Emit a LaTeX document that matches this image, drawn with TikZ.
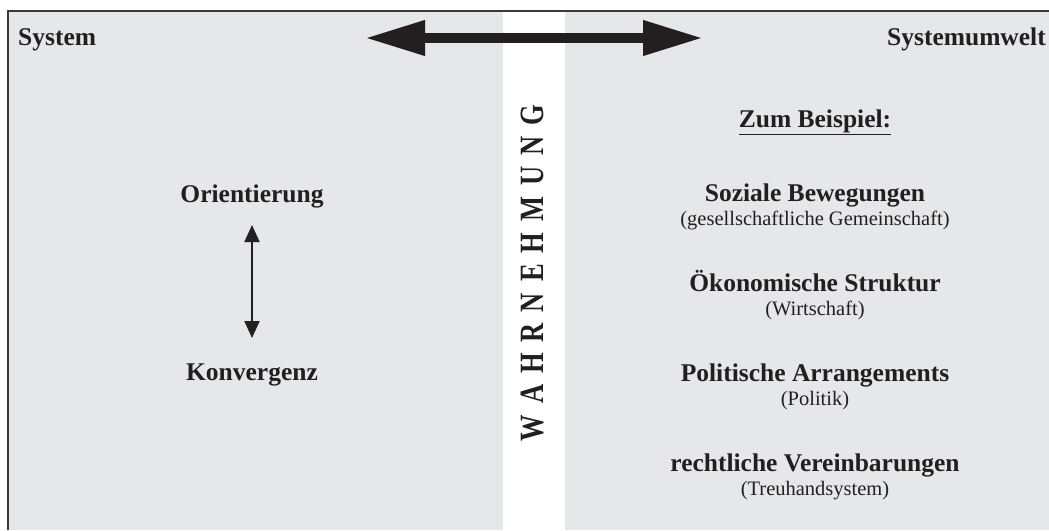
\documentclass[tikz,border=0pt]{standalone}
\usepackage{fontspec}
\setmainfont{Liberation Serif}
\newfontfamily\wahrfont[FakeStretch=0.78]{Liberation Serif}
\usepackage{tikz}
\usetikzlibrary{arrows.meta}
\definecolor{panelgray}{HTML}{E6E7E8}
\definecolor{rulegray}{HTML}{3A3A3A}
\definecolor{ink}{HTML}{231F20}
\newcommand{\wg}{\hspace{11pt}}

\begin{document}
\begin{tikzpicture}[x=1pt,y=-1pt,
headtxt/.style={font=\fontsize{25.5}{28}\selectfont\bfseries, text=ink, inner sep=0pt, anchor=base},
subtxt/.style={font=\fontsize{20.5}{24}\selectfont, text=ink, inner sep=0pt, anchor=base},
bigarrow/.style={ink, line width=10pt, {Triangle[length=60pt,width=33pt]}-{Triangle[length=60pt,width=33pt]}},
smallarrow/.style={ink, line width=2pt, {Triangle[length=17pt,width=15pt]}-{Triangle[length=17pt,width=15pt]}}]
\useasboundingbox (0,0) rectangle (1049,530);
\fill[white] (0,0) rectangle (1049,530);
% panels
\fill[panelgray] (8,12) rectangle (503,530);
\fill[panelgray] (565,12) rectangle (1049,530);
\draw[rulegray, line width=2pt, line join=miter] (1049,11) -- (8,11) -- (8,530);
% top row
\node (sys) at (18,45) [headtxt, anchor=base west] {System};
\node (umw) at (1046,45) [headtxt, anchor=base east] {Systemumwelt};
\coordinate (al) at (365,38);
\coordinate (ar) at (703,38);
\draw[bigarrow] (al) -- (ar);
% middle strip
\node (wahr) at (532,273) [rotate=90, inner sep=0pt, text=ink,
  font=\wahrfont\fontsize{34}{38}\selectfont\bfseries]
  {W\wg A\wg H\wg R\wg N\wg E\wg H\wg M\wg U\wg N\wg G};
% left side
\node (orient) at (252,202) [headtxt] {Orientierung};
\node (konv) at (252,380) [headtxt] {Konvergenz};
\coordinate (ot) at (252,225);
\coordinate (kt) at (252,338);
\draw[smallarrow] (ot) -- (kt);
% right side
\node (bsp) at (815,127) [headtxt] {\underline{Zum Beispiel:}};
\node (soz) at (815,201) [headtxt] {Soziale Bewegungen};
\node (sozs) at (815,225) [subtxt] {(gesellschaftliche Gemeinschaft)};
\node (oek) at (815,291) [headtxt] {Ökonomische Struktur};
\node (oeks) at (815,315) [subtxt] {(Wirtschaft)};
\node (pol) at (815,381) [headtxt] {Politische Arrangements};
\node (pols) at (815,405) [subtxt] {(Politik)};
\node (recht) at (815,471) [headtxt] {rechtliche Vereinbarungen};
\node (rechts) at (815,495) [subtxt] {(Treuhandsystem)};
\end{tikzpicture}
\end{document}
